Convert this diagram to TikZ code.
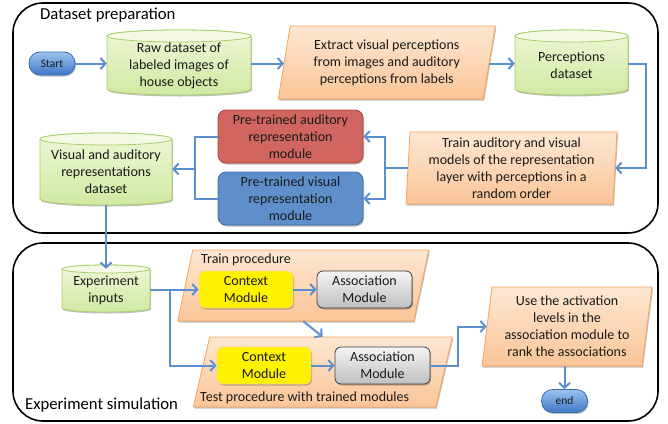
\documentclass[tikz,border=0pt]{standalone}
\usepackage{fontspec}
\setmainfont{Carlito}
\usetikzlibrary{arrows.meta,calc,shadows}
\definecolor{arrowc}{HTML}{5B8FCF}
\definecolor{cylborder}{HTML}{A9CF6B}
\definecolor{cyltopc}{HTML}{F4FAE6}
\definecolor{cylA}{HTML}{EEF7D6}
\definecolor{cylB}{HTML}{D0E9A2}
\definecolor{orA}{HTML}{FDE7D2}
\definecolor{orB}{HTML}{FBC598}
\definecolor{orborder}{HTML}{F8A45C}
\definecolor{redfill}{HTML}{D0665F}
\definecolor{redborder}{HTML}{A9433E}
\definecolor{bluefill}{HTML}{5E8FCB}
\definecolor{blueborder}{HTML}{3D6CA6}
\definecolor{txt}{HTML}{1A1A1A}
\definecolor{termA}{HTML}{9CC3EE}
\definecolor{termB}{HTML}{3E78C6}
\definecolor{termborder}{HTML}{3A6DB0}
\definecolor{ybord}{HTML}{F5D98A}
\newcommand{\bodyfont}{\fontsize{14}{17}\selectfont}
\tikzset{
  x=1pt,y=1pt,
  container/.style={draw=black,line width=1.6pt,rounded corners=30pt},
  plain/.style={inner sep=0pt,align=center,text=txt,font=\bodyfont},
  cylbody/.style={draw=cylborder,line width=0.8pt,top color=cylA,bottom color=cylB,
     drop shadow={shadow xshift=1pt,shadow yshift=-1.5pt,opacity=0.25,fill=black}},
  cyltopface/.style={draw=cylborder,line width=0.8pt,fill=cyltopc},
  parafill/.style={draw=orborder,line width=0.8pt,top color=orA,bottom color=orB,
     drop shadow={shadow xshift=1pt,shadow yshift=-1.5pt,opacity=0.25,fill=black}},
  term/.style={plain,draw=termborder,line width=0.8pt,top color=termA,bottom color=termB,
     rounded corners=11pt,minimum width=46pt,minimum height=23pt,font=\fontsize{11.5}{13}\selectfont,
     drop shadow={shadow xshift=1pt,shadow yshift=-1.5pt,opacity=0.25,fill=black}},
  redbox/.style={plain,draw=redborder,line width=0.8pt,fill=redfill,rounded corners=8pt,
     minimum width=145pt,minimum height=53pt,
     drop shadow={shadow xshift=1pt,shadow yshift=-1.5pt,opacity=0.25,fill=black}},
  bluebox/.style={plain,draw=blueborder,line width=0.8pt,fill=bluefill,rounded corners=8pt,
     minimum width=145pt,minimum height=53pt,
     drop shadow={shadow xshift=1pt,shadow yshift=-1.5pt,opacity=0.25,fill=black}},
  ctxbox/.style={plain,draw=ybord,line width=0.8pt,fill=yellow,rounded corners=6pt,
     minimum width=94pt,minimum height=37pt,
     drop shadow={shadow xshift=1pt,shadow yshift=-1.5pt,opacity=0.25,fill=black}},
  assocbox/.style={plain,draw=black!75,line width=0.8pt,top color=black!4,bottom color=black!25,
     rounded corners=6pt,minimum width=95pt,minimum height=37pt,
     drop shadow={shadow xshift=1pt,shadow yshift=-1.5pt,opacity=0.25,fill=black}},
  conn/.style={draw=arrowc,line width=2pt},
  arr/.style={conn,-{Straight Barb[length=5pt,width=11pt]}},
  title/.style={inner sep=0pt,anchor=west,text=black,font=\fontsize{16.7}{19}\selectfont},
}
% cylinder: name, x1, x2, ytop, ybot, ry, text
\newcommand{\cylnode}[7]{%
  \path[cylbody] (#2,{#4-#6}) -- (#2,{#5+#6})
     arc[start angle=180,end angle=360,x radius={(#3-#2)/2},y radius=#6]
     -- (#3,{#4-#6})
     arc[start angle=0,end angle=180,x radius={(#3-#2)/2},y radius=#6] -- cycle;
  \path[cyltopface] ({(#2+#3)/2},{#4-#6}) ellipse[x radius={(#3-#2)/2},y radius=#6];
  \node[plain,minimum width={(#3-#2)*1pt},minimum height={(#4-#5-#6)*1pt}]
     (#1) at ({(#2+#3)/2},{(#4+#5)/2-#6/2}) {#7};
}
% parallelogram: name, cx, cy, w, h, slant, text
\newcommand{\paranode}[7]{%
  \path[parafill] ({#2-#4/2+#6/2},{#3+#5/2}) -- ({#2+#4/2+#6/2},{#3+#5/2})
     -- ({#2+#4/2-#6/2},{#3-#5/2}) -- ({#2-#4/2-#6/2},{#3-#5/2}) -- cycle;
  \node[plain,minimum width={#4*1pt},minimum height={#5*1pt}] (#1) at (#2,#3) {#7};
}
\begin{document}
\begin{tikzpicture}
\useasboundingbox (0,0) rectangle (668,-423);
% containers
\draw[container] (13,-3) rectangle (658,-233);
\draw[container] (13,-243) rectangle (658,-421);
\node[title] (t1) at (40,-15) {Dataset preparation};
\node[title] (t2) at (25,-405) {Experiment simulation};

% top section
\node[term] (start) at (52,-63.5) {Start};
\cylnode{raw}{107}{251}{-30}{-95}{6}{Raw dataset of\\labeled images of\\house objects}
\paranode{extract}{386.75}{-62.5}{205}{73}{12}{Extract visual perceptions\\from images and auditory\\perceptions from labels}
\cylnode{perc}{515}{628}{-30}{-95}{6}{Perceptions\\dataset}
\paranode{train}{511.5}{-168}{207}{72}{4}{Train auditory and visual\\models of the representation\\layer with perceptions in a\\random order}
\node[redbox] (red) at (290.5,-136.5) {Pre-trained auditory\\representation\\module};
\node[bluebox] (blue) at (290.5,-198.5) {Pre-trained visual\\representation\\module};
\cylnode{vis}{40}{172}{-133}{-205}{6}{Visual and auditory\\representations\\dataset}

% bottom section
\cylnode{inputs}{62}{150}{-265}{-312}{4}{Experiment\\inputs}
\paranode{trainp}{303.25}{-285.5}{236}{71}{15}{}
\node[plain,anchor=west] (trainlab) at (201,-260) {Train procedure};
\paranode{testp}{322.75}{-372}{242.5}{70}{16.5}{}
\node[plain,anchor=west] (testlab) at (200,-397.5) {Test procedure with trained modules};
\node[ctxbox] (ctx1) at (246,-289.5) {Context\\Module};
\node[assocbox] (as1) at (364.5,-289.5) {Association\\Module};
\node[ctxbox] (ctx2) at (264,-365.5) {Context\\Module};
\node[assocbox] (as2) at (382.5,-365.5) {Association\\Module};
\paranode{use}{567}{-326.5}{160}{79}{10}{Use the activation\\levels in the\\association module to\\rank the associations}
\node[term] (end) at (564.5,-401) {end};

% connectors
\coordinate (j1) at (385,-168);
\coordinate (j2) at (195,-169);
\coordinate (j3) at (170,-289.5);
\coordinate (j4) at (458,-365.5);
\coordinate (p1) at (646,-63.5);
\draw[arr] (start) -- (raw.west |- start);
\draw[arr] (raw.east |- start) -- (extract.west |- start);
\draw[arr] (extract.east |- start) -- (perc.west |- start);
\draw[arr] (perc.east |- p1) -- (p1) |- (train.east);
\draw[conn] (train.west) -- (j1);
\draw[arr] (j1) |- (red.east);
\draw[arr] (j1) |- (blue.east);
\draw[conn] (red.west) -| (j2) |- (blue.west);
\draw[arr] (j2) -- (vis.east |- j2);
\draw[arr] (vis.south) -- (inputs.north);
\draw[arr] (inputs.east |- ctx1) -- (ctx1.west);
\draw[arr] (j3) |- (ctx2.west);
\draw[arr] (ctx1) -- (as1);
\draw[arr] (ctx2) -- (as2);
\draw[arr] (trainp.south) -- (testp.north);
\draw[arr] (as2.east) -- (j4) |- (use.west);
\draw[arr] (end.north |- use.south) -- (end.north);
\end{tikzpicture}
\end{document}
